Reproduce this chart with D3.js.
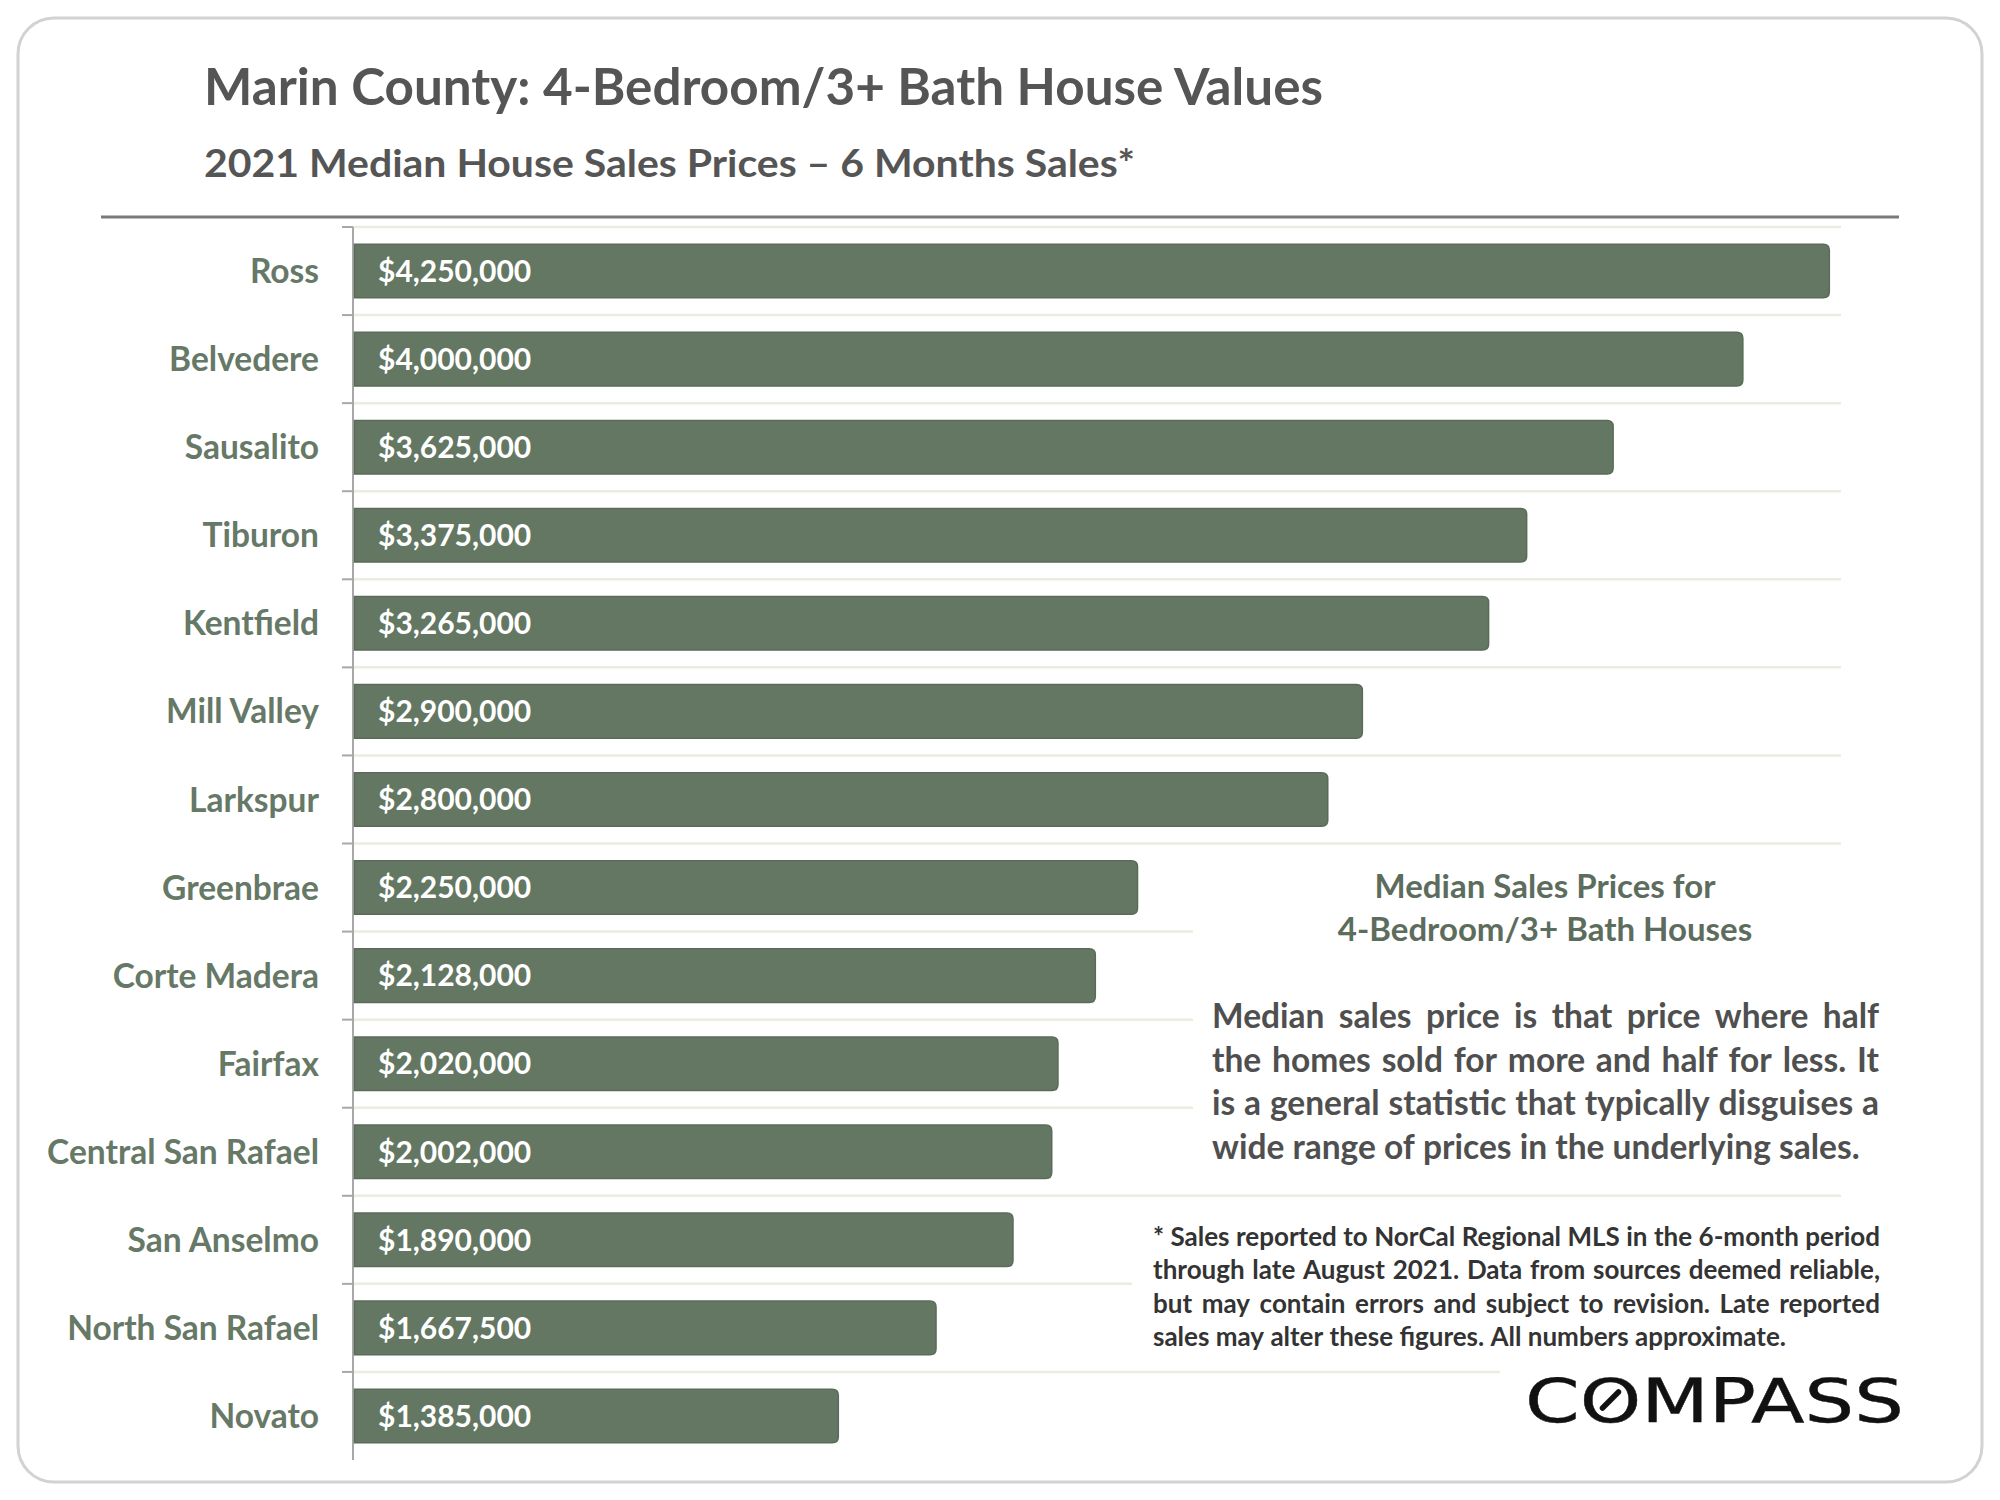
<!DOCTYPE html>
<html><head><meta charset="utf-8">
<script src="https://cdn.jsdelivr.net/npm/d3@7"></script>
<style>html,body{margin:0;padding:0;background:#fff;} svg{display:block}</style>
</head><body>
<svg id="c" width="2000" height="1500"></svg>
<script>
// ---------- data ----------
const categories = ["Ross","Belvedere","Sausalito","Tiburon","Kentfield","Mill Valley","Larkspur","Greenbrae","Corte Madera","Fairfax","Central San Rafael","San Anselmo","North San Rafael","Novato"];
const values = [4250000,4000000,3625000,3375000,3265000,2900000,2800000,2250000,2128000,2020000,2002000,1890000,1667500,1385000];
const xDomain = [0, 4281600];
const titleText = "Marin County: 4-Bedroom/3+ Bath House Values";
const subtitleText = "2021 Median House Sales Prices \u2013 6 Months Sales*";
const noteTitleLines = ["Median Sales Prices for","4-Bedroom/3+ Bath Houses"];
const noteLines = ["Median sales price is that price where half","the homes sold for more and half for less. It","is a general statistic that typically disguises a","wide range of prices in the underlying sales."];
const footLines = ["* Sales reported to NorCal Regional MLS in the 6-month period","through late August 2021. Data from sources deemed reliable,","but may contain errors and subject to revision. Late reported","sales may alter these figures. All numbers approximate."];
const brand = "COMPASS";

// ---------- setup ----------
const FONT = "Lato, 'Open Sans', sans-serif";
const svg = d3.select("#c");
const BAR = "#637762", BAR_EDGE = "#5a6c59", LABEL = "#667866", DARK = "#555555";

// card
svg.append("rect").attr("x",18).attr("y",18).attr("width",1964).attr("height",1464)
  .attr("rx",36).attr("fill","#fff").attr("stroke","#d2d2d2").attr("stroke-width",3);

// titles
svg.append("text").attr("x",204).attr("y",105).text(titleText)
  .attr("font-family",FONT).attr("font-weight",700).attr("font-size",51).attr("fill",DARK)
  .attr("textLength",1119).attr("lengthAdjust","spacingAndGlyphs");
svg.append("text").attr("x",204).attr("y",177).text(subtitleText)
  .attr("font-family",FONT).attr("font-weight",700).attr("font-size",38).attr("fill",DARK)
  .attr("textLength",931).attr("lengthAdjust","spacingAndGlyphs");
svg.append("line").attr("x1",101).attr("x2",1899).attr("y1",217).attr("y2",217)
  .attr("stroke","#7a7a7a").attr("stroke-width",3);

// scales
const plotTop = 227, plotBottom = 1460, plotLeft = 353, plotRight = 1841, zeroX = 360;
const x = d3.scaleLinear().domain(xDomain).range([zeroX, plotRight]);
const pad = 0.375;
const y = d3.scaleBand().domain(categories).range([plotTop, plotBottom]).paddingInner(pad).paddingOuter(pad/2);
const step = y.step();
const boundaries = d3.range(categories.length + 1).map(i => plotTop + i*step);

// gridlines
svg.append("g").selectAll("line").data(boundaries.slice(0, categories.length)).join("line")
  .attr("x1", plotLeft).attr("x2", plotRight).attr("y1", d=>d).attr("y2", d=>d)
  .attr("stroke","#ecebe0").attr("stroke-width",2.5);

// axis line + ticks
const ax = svg.append("g");
ax.append("line").attr("x1",plotLeft).attr("x2",plotLeft).attr("y1",plotTop).attr("y2",plotBottom)
  .attr("stroke","#a8a8a8").attr("stroke-width",2);
ax.selectAll("line.tk").data(boundaries.slice(0, categories.length)).join("line").attr("class","tk")
  .attr("x1",plotLeft-11).attr("x2",plotLeft).attr("y1",d=>d).attr("y2",d=>d)
  .attr("stroke","#a8a8a8").attr("stroke-width",2);

// bars (rounded right corners)
function barPath(x0, y0, w, h, r) {
  r = Math.min(r, w/2, h/2);
  return `M${x0},${y0}H${x0+w-r}Q${x0+w},${y0} ${x0+w},${y0+r}V${y0+h-r}Q${x0+w},${y0+h} ${x0+w-r},${y0+h}H${x0}Z`;
}
const data = categories.map((c,i)=>({c, v: values[i]}));
svg.append("g").selectAll("path").data(data).join("path")
  .attr("d", d => barPath(plotLeft+1.5, y(d.c)+0.75, x(d.v)-plotLeft-2.25, y.bandwidth()-1.5, 6))
  .attr("fill", BAR).attr("stroke", BAR_EDGE).attr("stroke-width",1.5);

// value labels
const fmt = d3.format("$,");
svg.append("g").selectAll("text").data(data).join("text")
  .attr("x", plotLeft+25).attr("y", d => y(d.c) + y.bandwidth()/2).attr("dy","0.36em")
  .text(d => fmt(d.v)).attr("font-family",FONT).attr("font-weight",700).attr("font-size",30).attr("fill","#fff");

// category labels
svg.append("g").selectAll("text").data(data).join("text")
  .attr("x", 319).attr("y", d => y(d.c) + y.bandwidth()/2).attr("dy","0.36em").attr("text-anchor","end")
  .text(d => d.c).attr("font-family",FONT).attr("font-weight",700).attr("font-size",33.5).attr("fill",LABEL);

// white text boxes covering gridlines
svg.append("rect").attr("x",1193).attr("y",860).attr("width",700).attr("height",320).attr("fill","#fff");
svg.append("rect").attr("x",1132).attr("y",1215).attr("width",760).attr("height",145).attr("fill","#fff");
svg.append("rect").attr("x",1500).attr("y",1366).attr("width",420).attr("height",80).attr("fill","#fff");

// note title
svg.append("g").selectAll("text").data(noteTitleLines).join("text")
  .attr("x",1545).attr("y",(d,i)=>898 + i*43).attr("text-anchor","middle").text(d=>d)
  .attr("font-family",FONT).attr("font-weight",700).attr("font-size",33).attr("fill","#5d6d5d");

// justified text helper: one text element per word
function block(lines, x0, width, y0, lh, size, color) {
  const g = svg.append("g").attr("font-family",FONT).attr("font-weight",700).attr("font-size",size).attr("fill",color);
  const m1 = g.append("text").text("a a"), m2 = g.append("text").text("aa");
  const spaceW = m1.node().getComputedTextLength() - m2.node().getComputedTextLength();
  m1.remove(); m2.remove();
  lines.forEach((line, li) => {
    const yy = y0 + li*lh;
    const isLast = li === lines.length - 1;
    const words = line.split(" ");
    const ts = words.map(w => g.append("text").attr("y", yy).text(w));
    const ws = ts.map(t => t.node().getComputedTextLength());
    const total = d3.sum(ws);
    let gap = isLast ? spaceW : (width - total)/(words.length-1);
    if (gap < spaceW*0.55) {
      ts.forEach(t => t.remove());
      g.append("text").attr("x", x0).attr("y", yy).text(line)
        .attr("textLength", width).attr("lengthAdjust","spacingAndGlyphs");
      return;
    }
    let cx = x0;
    ts.forEach((t,i)=>{ t.attr("x", cx); cx += ws[i] + gap; });
  });
}
block(noteLines, 1212, 667, 1028, 43.5, 33.5, "#4f4f4f");
block(footLines, 1153, 727, 1246, 33.3, 26, "#333333");

// brand
const bt = svg.append("text").attr("x",1525).attr("y",1422).text(brand)
  .attr("font-family","'DejaVu Sans', sans-serif").attr("font-size",60).attr("fill","#111")
  .attr("stroke","#111").attr("stroke-width",0.4)
  .attr("textLength",379).attr("lengthAdjust","spacingAndGlyphs");
const ob = bt.node().getExtentOfChar(1);
const ocx = ob.x + ob.width/2, ocy = 1422 - 22;
svg.append("line").attr("x1",ocx-8).attr("y1",ocy+8).attr("x2",ocx+8).attr("y2",ocy-8)
  .attr("stroke","#111").attr("stroke-width",5.5).attr("stroke-linecap","round");
</script>
</body></html>
